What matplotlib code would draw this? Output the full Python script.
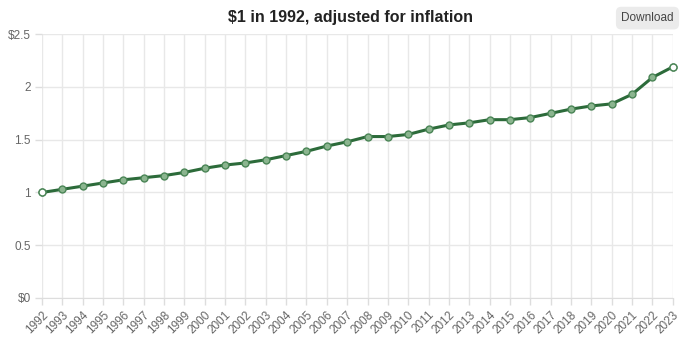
import matplotlib
matplotlib.use('Agg')
import matplotlib.pyplot as plt

years = list(range(1992, 2024))
values = [1.00, 1.03, 1.06, 1.09, 1.12, 1.14, 1.16, 1.19, 1.23, 1.26,
          1.28, 1.31, 1.35, 1.39, 1.44, 1.48, 1.53, 1.53, 1.55, 1.60,
          1.64, 1.66, 1.69, 1.69, 1.71, 1.75, 1.79, 1.82, 1.84, 1.93,
          2.09, 2.19]
y_ticks = [0, 0.5, 1, 1.5, 2, 2.5]
y_labels = ['$0', '0.5', '1', '1.5', '2', '$2.5']

plt.rcParams['font.family'] = ['Liberation Sans', 'DejaVu Sans']

fig = plt.figure(figsize=(7, 3.48), dpi=100)
ax = fig.add_axes([0.06, 0.1437, 0.901, 0.758])

ax.plot(years, values, color='#2c6b3a', linewidth=2.2, zorder=3,
        marker='o', markersize=5, markerfacecolor='#8bb58f',
        markeredgecolor='#4a8556', markeredgewidth=1, clip_on=False)
# hollow end markers
ax.plot([years[0], years[-1]], [values[0], values[-1]], linestyle='none',
        marker='o', markersize=5, markerfacecolor='white',
        markeredgecolor='#4a8556', markeredgewidth=1, zorder=4,
        clip_on=False)

ax.set_xlim(years[0], years[-1])
ax.set_ylim(0, 2.5)
ax.set_xticks(years)
ax.set_xticklabels([str(y) for y in years], rotation=45, ha='right',
                   rotation_mode='anchor', fontsize=8.5, color='#666666')
ax.set_yticks(y_ticks)
ax.set_yticklabels(y_labels, fontsize=8.5, color='#666666')
ax.tick_params(axis='both', length=5, color='#dddddd', width=1, pad=3)

ax.grid(True, color='#e8e8e8', linewidth=1)
ax.set_axisbelow(True)
for s in ['top', 'right', 'left']:
    ax.spines[s].set_visible(False)
ax.spines['bottom'].set_color('#dddddd')

fig.text(0.5, 0.95, '$1 in 1992, adjusted for inflation', ha='center',
         va='center', fontsize=11.5, fontweight='bold', color='#222222')
fig.text(0.925, 0.948, 'Download', ha='center', va='center', fontsize=8.5,
         color='#444444',
         bbox=dict(boxstyle='round,pad=0.45', facecolor='#ebebeb',
                   edgecolor='none'))

fig.savefig('out.png', dpi=100)
